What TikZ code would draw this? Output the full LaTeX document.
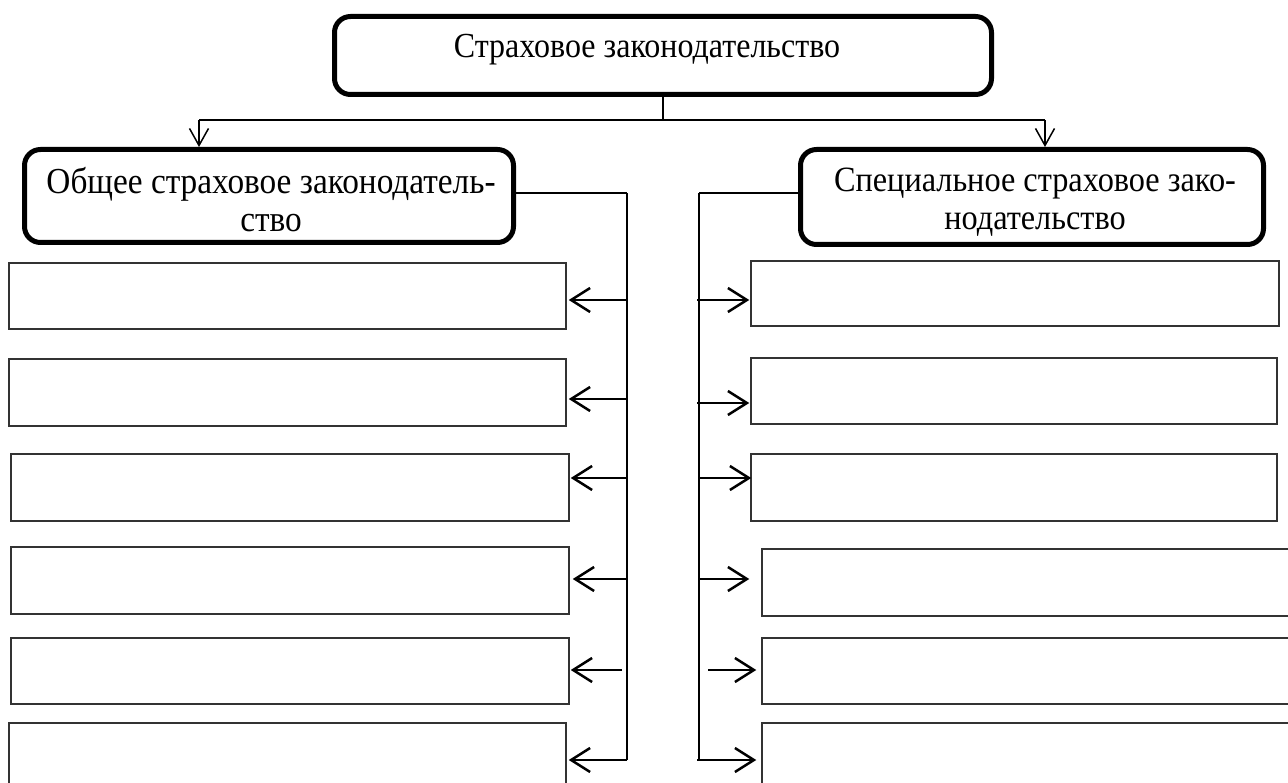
\documentclass[tikz,border=0pt]{standalone}
\usepackage{fontspec}
\setmainfont{Liberation Serif}
\usetikzlibrary{arrows.meta}
\begin{document}
\begin{tikzpicture}[x=1pt,y=-1pt,
  mainbox/.style={draw=black, line width=5pt, rounded corners=16pt, inner sep=0pt},
  boxtext/.style={align=center, inner sep=0pt, yscale=1.1, transform shape},
  emptybox/.style={draw=black!80, line width=1.5pt, inner sep=0pt},
  link/.style={draw=black, line width=1.5pt},
  spine/.style={draw=black, line width=2pt},
  sidearrow/.style={draw=black, line width=2.5pt, -{Straight Barb[length=19pt,width=24pt]}},
  downarrow/.style={draw=black, line width=1.5pt, -{Straight Barb[length=17pt,width=19pt]}}
]
\path[use as bounding box, clip] (0,0) rectangle (1288,783);

% main boxes
\node[mainbox, minimum width=657pt, minimum height=78pt] (T) at (663,55.5) {};
\node[mainbox, minimum width=489pt, minimum height=93pt] (LB) at (269,196) {};
\node[mainbox, minimum width=463pt, minimum height=95pt] (RB) at (1032,197) {};
\node[boxtext, font=\fontsize{32}{34}\selectfont] (Tt) at (647,50) {Страховое законодательство};
\node[boxtext, font=\fontsize{33.3}{34.5}\selectfont] (LBt) at (271,199.5) {Общее страховое законодатель-\\ство};
\node[boxtext, font=\fontsize{32.3}{34.5}\selectfont] (RBt) at (1035,202) {Специальное страховое зако-\\нодательство};

% empty boxes left
\node[emptybox, minimum width=557pt, minimum height=66pt] (L1) at (287.5,296) {};
\node[emptybox, minimum width=557pt, minimum height=67pt] (L2) at (287.5,392.5) {};
\node[emptybox, minimum width=558pt, minimum height=67pt] (L3) at (290,487.5) {};
\node[emptybox, minimum width=558pt, minimum height=67pt] (L4) at (290,580.5) {};
\node[emptybox, minimum width=558pt, minimum height=66pt] (L5) at (290,671) {};
\node[emptybox, minimum width=557pt, minimum height=67pt] (L6) at (287.5,756.5) {};

% empty boxes right
\node[emptybox, minimum width=528pt, minimum height=65pt] (R1) at (1015,293.5) {};
\node[emptybox, minimum width=526pt, minimum height=66pt] (R2) at (1014,391) {};
\node[emptybox, minimum width=526pt, minimum height=67pt] (R3) at (1014,487.5) {};
\node[emptybox, minimum width=538pt, minimum height=67pt] (R4) at (1031,582.5) {};
\node[emptybox, minimum width=538pt, minimum height=66pt] (R5) at (1031,671) {};
\node[emptybox, minimum width=538pt, minimum height=67pt] (R6) at (1031,756.5) {};

% top distribution
\coordinate (J) at (663,120);
\coordinate (A1) at (199,120);
\coordinate (A2) at (1045,120);
\draw[link] (T.south) -- (J);
\draw[link] (A1) -- (A2);
\draw[downarrow] (A1) -- (A1 |- LB.north);
\draw[downarrow] (A2) -- (A2 |- RB.north);

% left spine
\coordinate (LS) at (627,193);
\coordinate (LE) at (627,760);
\draw[link] (LB.east |- LS) -- (LS);
\draw[spine] (LS) -- (LE);
\coordinate (l1) at (627,300);
\coordinate (l2) at (627,399);
\coordinate (l3) at (627,478);
\coordinate (l4) at (627,579);
\coordinate (l5) at (622,670);
\draw[sidearrow] (l1) -- ([xshift=2pt]l1 -| L1.east);
\draw[sidearrow] (l2) -- ([xshift=2pt]l2 -| L2.east);
\draw[sidearrow] (l3) -- ([xshift=1pt]l3 -| L3.east);
\draw[sidearrow] (l4) -- ([xshift=3pt]l4 -| L4.east);
\draw[sidearrow] (l5) -- ([xshift=1pt]l5 -| L5.east);
\draw[sidearrow] (LE) -- ([xshift=2pt]LE -| L6.east);

% right spine
\coordinate (RS) at (699,193);
\coordinate (RE) at (699,760);
\draw[link] (RB.west |- RS) -- (RS);
\draw[spine] (RS) -- (RE);
\coordinate (r1) at (697,300);
\coordinate (r2) at (697,403);
\coordinate (r3) at (699,478);
\coordinate (r4) at (699,579);
\coordinate (r5) at (708,670);
\coordinate (r6) at (697,760);
\draw[sidearrow] (r1) -- ([xshift=-1pt]r1 -| R1.west);
\draw[sidearrow] (r2) -- ([xshift=-1pt]r2 -| R2.west);
\draw[sidearrow] (r3) -- ([xshift=1pt]r3 -| R3.west);
\draw[sidearrow] (r4) -- ([xshift=-12pt]r4 -| R4.west);
\draw[sidearrow] (r5) -- ([xshift=-5pt]r5 -| R5.west);
\draw[sidearrow] (r6) -- ([xshift=-5pt]r6 -| R6.west);
\end{tikzpicture}
\end{document}
